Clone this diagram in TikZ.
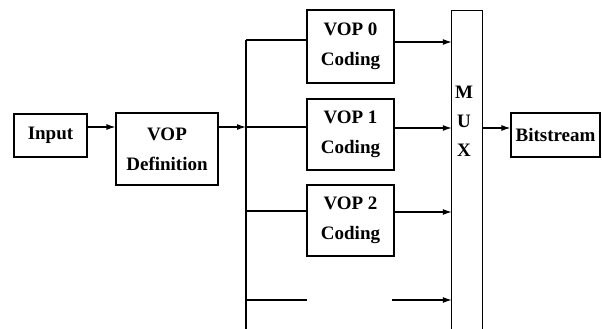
\documentclass[tikz,border=0pt]{standalone}
\usepackage{fontspec}
\setmainfont{Liberation Serif}
\usetikzlibrary{arrows.meta}
\tikzset{
  box/.style={draw, line width=1.1pt, inner sep=0pt, align=center,
    font=\fontsize{19}{30}\selectfont\bfseries},
  wire/.style={line width=1.2pt},
  arr/.style={wire, -{Latex[length=9pt,width=6pt]}},
}
\begin{document}
\begin{tikzpicture}[x=1pt, y=-1pt]
\useasboundingbox (0,0) rectangle (602,329);

% blocks
\node[box, minimum width=73pt, minimum height=43pt] (input) at (50.5,135.5) {Input};
\node[box, minimum width=102pt, minimum height=72pt] (vopdef) at (167,149) {VOP\\Definition};
\node[box, minimum width=87pt, minimum height=73pt] (vop0) at (350.5,46.5) {VOP 0\\Coding};
\node[box, minimum width=87pt, minimum height=71pt] (vop1) at (350.5,134.5) {VOP 1\\Coding};
\node[box, minimum width=87pt, minimum height=71pt] (vop2) at (350.5,220.5) {VOP 2\\Coding};
\node[box, minimum width=89pt, minimum height=44pt] (bits) at (555.5,135) {Bitstream};

% multiplexer column, open at the bottom
\node[inner sep=0pt, minimum width=30pt, minimum height=320pt] (mux) at (467,171) {};
\draw[line width=1pt] (mux.south west) -- (mux.north west) -- (mux.north east) -- (mux.south east);
\node[align=center, inner sep=0pt, font=\fontsize{19}{29}\selectfont\bfseries] (muxlabel) at (464,121) {M\\U\\X};

% distribution bus
\coordinate (b0) at (246,40);
\coordinate (b1) at (246,127);
\coordinate (b2) at (246,211);
\coordinate (b3) at (246,300);
\coordinate (bend) at (246,331);
\draw[wire] (b0) -- (bend);

% levels of the multiplexer inputs
\coordinate (m0) at (400,42);
\coordinate (m1) at (400,128);
\coordinate (m2) at (400,212);
\coordinate (g1) at (307,300);
\coordinate (g2) at (392,300);

% connectors
\draw[arr] (input.east |- b1) -- (vopdef.west |- b1);
\draw[arr] (vopdef.east |- b1) -- (b1);
\draw[wire] (b0) -- (vop0.west |- b0);
\draw[wire] (b1) -- (vop1.west |- b1);
\draw[wire] (b2) -- (vop2.west |- b2);
\draw[wire] (b3) -- (g1);
\draw[arr] (vop0.east |- m0) -- (mux.west |- m0);
\draw[arr] (vop1.east |- m1) -- (mux.west |- m1);
\draw[arr] (vop2.east |- m2) -- (mux.west |- m2);
\draw[arr] (g2) -- (mux.west |- g2);
\draw[arr] (mux.east |- m1) -- (bits.west |- m1);
\end{tikzpicture}
\end{document}
